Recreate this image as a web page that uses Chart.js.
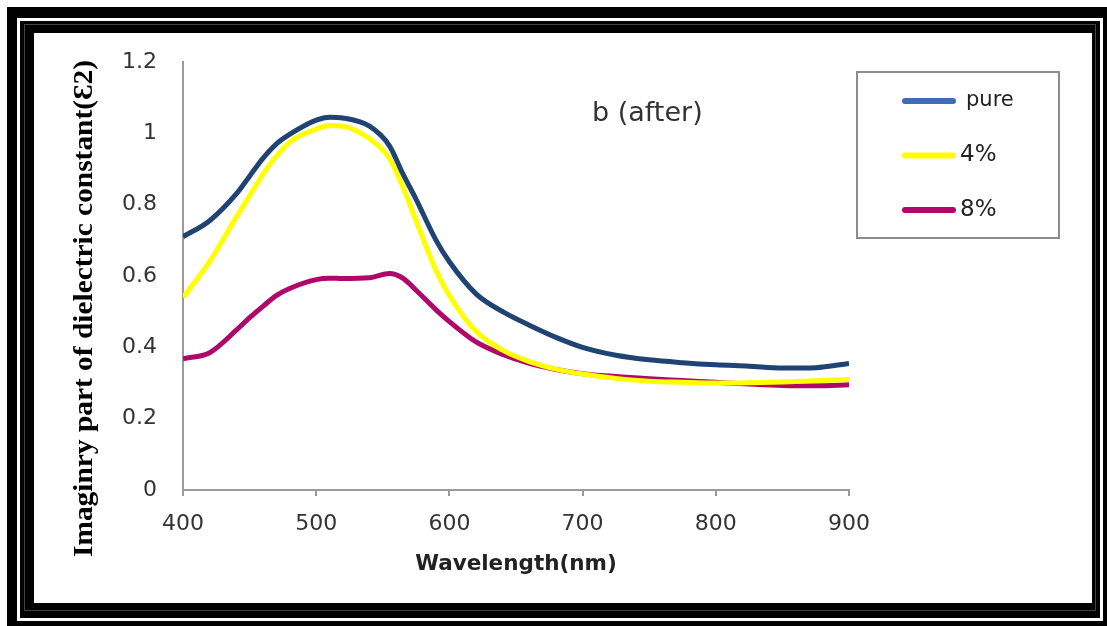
<!DOCTYPE html>
<html><head><meta charset="utf-8">
<script src="https://cdn.jsdelivr.net/npm/chart.js@4.4.1/dist/chart.umd.min.js"></script>
<style>
html,body{margin:0;padding:0;background:#fff;width:1107px;height:626px;overflow:hidden;}
.b{position:absolute;}
#f1{left:7px;top:7px;width:1100px;height:619px;background:#000;}
#f2{left:17px;top:18px;width:1086px;height:603px;background:#fff;}
#f3{left:20px;top:21px;width:1080px;height:597px;background:#000;}
#f4{left:24px;top:24px;width:1072px;height:587px;border:1px solid #444;box-sizing:border-box;}
#panel{left:34px;top:33px;width:1058px;height:570px;background:#fff;}
</style></head><body>
<div class="b" id="f1"></div><div class="b" id="f2"></div><div class="b" id="f3"></div><div class="b" id="f4"></div>
<div class="b" id="panel"><canvas id="c" width="1058" height="570"></canvas></div>
<script>
// ---- data ----
const wavelengths = [400,420,440,450,460,470,480,500,510,520,540,555,565,575,590,600,620,640,660,680,700,725,750,775,800,825,850,875,900];
const pureValues  = [0.71,0.755,0.83,0.88,0.93,0.97,0.997,1.037,1.045,1.043,1.02,0.965,0.887,0.815,0.70,0.64,0.55,0.50,0.462,0.428,0.40,0.378,0.365,0.357,0.351,0.347,0.342,0.343,0.355];
const pct4Values  = [0.54,0.64,0.765,0.825,0.885,0.935,0.975,1.012,1.022,1.02,0.985,0.93,0.85,0.755,0.615,0.545,0.445,0.392,0.36,0.339,0.325,0.313,0.305,0.302,0.300,0.301,0.303,0.306,0.31];
const pct8Values  = [0.368,0.385,0.448,0.483,0.515,0.545,0.565,0.59,0.594,0.593,0.595,0.607,0.594,0.56,0.505,0.472,0.415,0.38,0.355,0.338,0.326,0.318,0.312,0.307,0.302,0.297,0.293,0.292,0.295];
const seriesNames = ['pure','4%','8%'];
const xTickLabels = ['400','500','600','700','800','900'];
const yTickLabels = ['0','0.2','0.4','0.6','0.8','1','1.2'];
const xTitle = 'Wavelength(nm)';
const yTitle = 'Imaginry part of dielectric constant(Ɛ2)';
const annotationText = 'b (after)';

const lineColors = ['#1F4373','#FFFF00','#B0086A'];
const legendColors = ['#3E6DB5','#FFFF00','#B0086A'];
const allValues = [pureValues, pct4Values, pct8Values];

const deco = {
  id:'deco',
  afterDraw(chart){
    const ctx = chart.ctx;
    ctx.save();
    ctx.fillStyle = '#333';
    ctx.font = '27px "DejaVu Sans"';
    ctx.textAlign = 'left'; ctx.textBaseline = 'alphabetic';
    ctx.fillText(annotationText, 558, 88);
    ctx.restore();

    ctx.save();
    ctx.translate(51, 275.5);
    ctx.rotate(-Math.PI/2);
    ctx.font = 'bold 27px "Liberation Serif"';
    const w = ctx.measureText(yTitle).width;
    ctx.scale(497/w, 1);
    ctx.textAlign = 'center'; ctx.textBaseline = 'middle'; ctx.fillStyle = '#000';
    ctx.fillText(yTitle, 0, 0);
    ctx.restore();

    // legend
    ctx.save();
    ctx.strokeStyle = '#8c8c8c'; ctx.lineWidth = 2;
    ctx.strokeRect(823, 39, 202, 166);
    chart.data.datasets.forEach((ds, i) => {
      const y = 68 + i*54.5;
      ctx.strokeStyle = legendColors[i]; ctx.lineWidth = 6; ctx.lineCap = 'round';
      ctx.beginPath(); ctx.moveTo(871, y); ctx.lineTo(919, y); ctx.stroke();
      ctx.fillStyle = '#222';
      ctx.font = (i === 0 ? '21px' : '23px') + ' "DejaVu Sans"';
      ctx.textAlign = 'left'; ctx.textBaseline = 'middle';
      ctx.fillText(ds.label, i === 0 ? 932 : 926, y);
    });
    ctx.restore();
  }
};

new Chart(document.getElementById('c'), {
  type: 'line',
  data: {
    datasets: allValues.map((vals, i) => ({
      label: seriesNames[i],
      data: wavelengths.map((x, j) => ({x: x, y: vals[j]})),
      borderColor: lineColors[i],
      backgroundColor: lineColors[i],
      borderWidth: 5,
      pointRadius: 0,
      cubicInterpolationMode: 'monotone',
      fill: false
    }))
  },
  options: {
    responsive: false, animation: false, devicePixelRatio: 1,
    layout: {padding: {left: 0, right: 243, top: 29, bottom: 26}},
    plugins: {legend: {display: false}, tooltip: {enabled: false}},
    scales: {
      x: {
        type: 'linear', min: 400, max: 900,
        ticks: {stepSize: 100, maxRotation: 0, padding: 15, color: '#333',
          font: {family: 'DejaVu Sans', size: 22},
          callback: (v, i) => xTickLabels[i]},
        grid: {drawOnChartArea: false, drawTicks: true, tickLength: 6, color: '#9a9a9a', lineWidth: 2},
        border: {display: true, color: '#9a9a9a', width: 2},
        title: {display: true, text: xTitle, color: '#222', padding: 0,
          font: {family: 'DejaVu Sans', size: 21.5, weight: 'bold'}},
        afterFit: (s) => { s.height = 87; }
      },
      y: {
        min: 0, max: 1.2,
        ticks: {stepSize: 0.2, padding: 4, color: '#333',
          font: {family: 'DejaVu Sans', size: 22},
          callback: (v, i) => yTickLabels[i]},
        grid: {display: false, drawTicks: true, tickLength: 22},
        border: {display: true, color: '#9a9a9a', width: 2},
        afterFit: (s) => { s.width = 149; }
      }
    }
  },
  plugins: [deco]
});
</script>
</body></html>
